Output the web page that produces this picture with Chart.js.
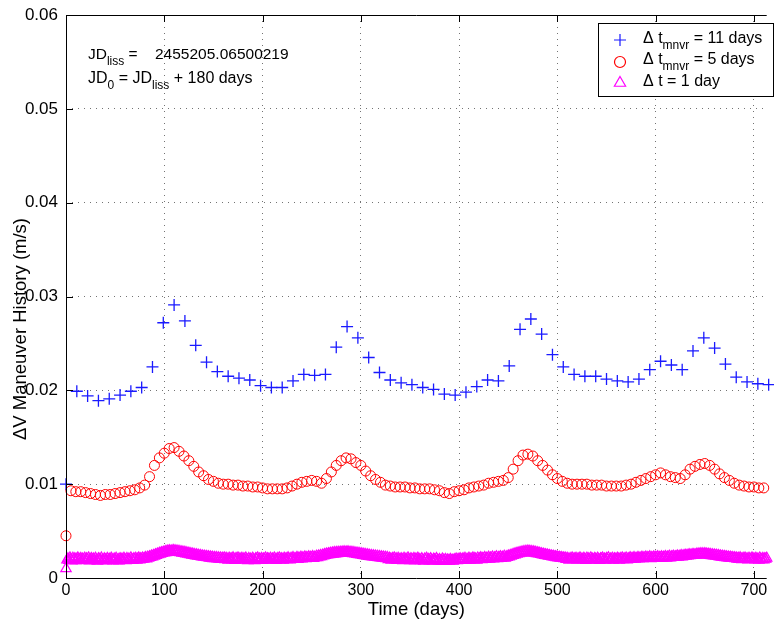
<!DOCTYPE html>
<html><head><meta charset="utf-8">
<script src="https://cdn.jsdelivr.net/npm/chart.js@4.4.1/dist/chart.umd.min.js"></script>
<style>html,body{margin:0;padding:0;background:#fff;overflow:hidden}canvas{display:block}</style>
</head><body>
<canvas id="c" width="774" height="622"></canvas>
<script>
const FONT = '"Liberation Sans", Arial, Helvetica, sans-serif';
const xTicks = [0, 100, 200, 300, 400, 500, 600, 700];
const yTicks = [0, 0.01, 0.02, 0.03, 0.04, 0.05, 0.06];
const xTitle = 'Time (days)';
const yTitle = '\u0394V Maneuver History (m/s)';

// sampling intervals (days)
const dtBlue = 11, dtRed = 5, dtMag = 1;

// Δt_mnvr = 11 days  (m/s)
const blueValues = [
 0.0100,0.0199,0.0194,0.0189,0.0191,0.0195,0.0199,0.0203,0.0225,0.0272,
 0.0291,0.0274,0.0248,0.0230,0.0220,0.0215,0.0213,0.0211,0.0205,0.0203,
 0.0203,0.0210,0.0217,0.0216,0.0217,0.0246,0.0268,0.0256,0.0235,0.0219,
 0.0211,0.0208,0.0206,0.0203,0.0201,0.0196,0.0195,0.0198,0.0204,0.0211,
 0.0210,0.0226,0.0265,0.0276,0.0260,0.0238,0.0225,0.0217,0.0215,0.0215,
 0.0212,0.0210,0.0209,0.0212,0.0222,0.0231,0.0227,0.0222,0.0242,0.0256,
 0.0245,0.0228,0.0214,0.0209,0.0207,0.0206
];

// Δt_mnvr = 5 days (m/s)
const redValues = [
 0.0045,0.0093,0.0092,0.0092,0.0091,0.0090,0.0089,0.0088,0.0089,0.0089,
 0.0090,0.0091,0.0092,0.0093,0.0094,0.0096,0.0099,0.0108,0.0120,0.0128,
 0.0133,0.0138,0.0139,0.0135,0.0130,0.0125,0.0119,0.0113,0.0109,0.0105,
 0.0103,0.0101,0.0100,0.0100,0.0099,0.0099,0.0098,0.0098,0.0097,0.0097,
 0.0096,0.0095,0.0095,0.0095,0.0095,0.0096,0.0098,0.0100,0.0102,0.0103,
 0.0104,0.0103,0.0101,0.0106,0.0113,0.0120,0.0125,0.0128,0.0127,0.0123,
 0.0120,0.0114,0.0109,0.0105,0.0102,0.0099,0.0098,0.0097,0.0097,0.0097,
 0.0096,0.0096,0.0095,0.0095,0.0095,0.0094,0.0093,0.0091,0.0090,0.0092,
 0.0093,0.0094,0.0096,0.0097,0.0098,0.0099,0.0101,0.0102,0.0103,0.0104,
 0.0107,0.0116,0.0125,0.0131,0.0132,0.0130,0.0125,0.0120,0.0115,0.0110,
 0.0106,0.0103,0.0101,0.0100,0.0100,0.0100,0.0100,0.0099,0.0099,0.0099,
 0.0098,0.0098,0.0098,0.0098,0.0099,0.0100,0.0102,0.0104,0.0106,0.0108,
 0.0110,0.0112,0.0110,0.0108,0.0107,0.0106,0.0110,0.0116,0.0119,0.0121,
 0.0122,0.0120,0.0116,0.0111,0.0107,0.0104,0.0101,0.0099,0.0098,0.0097,
 0.0097,0.0096,0.0096
];

// Δt = 1 day, in units of 1e-5 m/s
const magValuesE5 = [
 100,192,205,188,214,199,183,210,196,207,186,201,215,190,197,209,184,203,193,212,
 188,205,196,214,182,199,208,191,203,186,211,194,180,207,198,189,213,192,184,205,
 196,182,209,190,201,187,212,195,183,204,193,210,186,198,181,207,194,202,188,211,
 197,185,208,193,203,189,214,199,187,206,196,211,190,203,215,194,207,198,213,201,
 209,218,204,222,212,228,219,235,226,241,233,249,240,256,248,263,255,270,262,276,
 268,282,271,287,276,292,280,289,277,294,283,290,279,288,273,285,270,281,266,277,
 262,274,258,269,253,265,249,260,244,256,240,251,236,248,232,243,229,240,226,236,
 223,233,219,230,216,228,212,225,210,222,207,220,205,218,203,216,200,214,198,212,
 201,215,196,210,203,190,212,198,207,193,216,201,188,209,197,214,192,205,199,211,
 189,206,195,213,199,186,208,194,203,191,210,197,185,206,200,214,190,203,196,209,
 187,204,198,215,193,207,200,189,211,196,204,192,213,199,188,208,197,215,194,206,
 200,191,212,198,207,195,216,203,193,210,201,218,197,208,204,220,199,213,206,222,
 203,216,209,225,206,219,212,227,208,221,214,229,210,223,216,232,218,235,224,240,
 228,244,235,250,240,256,245,260,249,263,252,268,255,271,258,273,260,274,262,276,
 264,277,266,279,265,278,267,280,264,276,262,274,259,271,256,268,252,265,249,261,
 245,258,241,254,238,250,234,247,231,243,228,240,225,237,222,234,219,231,216,229,
 213,226,211,224,208,221,206,219,196,212,203,190,209,198,214,194,205,188,210,199,
 192,207,198,185,211,194,203,189,214,197,186,205,200,191,209,183,202,196,212,190,
 198,184,207,193,180,203,195,210,188,199,183,206,192,179,201,194,186,208,190,182,
 197,185,178,202,190,183,199,176,193,187,180,198,184,191,179,196,188,203,185,200,
 192,207,189,198,205,194,210,187,201,196,212,191,204,199,215,193,208,202,190,213,
 198,206,217,195,209,203,220,197,211,206,222,200,214,208,224,203,216,210,226,205,
 219,213,228,208,222,215,231,212,226,220,236,225,241,232,248,240,255,247,262,254,
 268,259,273,264,278,267,282,270,285,272,287,274,285,271,283,268,279,264,275,260,
 270,256,264,251,259,246,254,241,249,237,245,233,240,229,236,225,232,221,228,218,
 224,215,221,212,218,209,215,206,213,198,210,203,191,208,199,214,195,206,201,211,
 193,207,198,215,189,204,196,210,201,187,212,199,205,192,214,197,203,190,209,200,
 194,211,198,188,206,201,213,195,204,190,209,199,216,193,202,197,211,189,206,200,
 195,212,203,191,208,198,215,196,205,200,213,194,207,202,217,198,210,204,219,201,
 212,206,220,203,215,209,223,205,217,211,224,208,219,213,226,207,218,212,225,210,
 221,214,228,209,220,215,226,211,222,217,229,212,224,218,231,214,226,221,233,219,
 228,223,236,221,232,227,240,226,237,231,244,233,242,236,249,238,246,241,252,243,
 249,244,255,246,257,248,259,250,258,249,260,247,256,245,254,241,251,238,248,235,
 245,232,242,229,239,226,236,223,233,220,230,218,227,215,224,212,222,210,219,208,
 217,205,214,202,212,199,216,204,195,210,201,213,197,207,192,211,203,198,214,200,
 206,193,211,199,204,190,213,201,196,209,194,207,200,212
];

const COL_BLUE = '#1a1aff', COL_RED = '#ff0000', COL_MAG = '#ff00ff';

const toPts = (vals, dt, scale) => vals.map((v, i) => ({ x: i * dt, y: v * scale }));

const frameTicks = {
  id: 'frameTicks',
  afterDraw(chart) {
    const { ctx, chartArea: a, scales: { x, y } } = chart;
    ctx.save();
    ctx.strokeStyle = '#000';
    ctx.lineWidth = 1;
    ctx.beginPath();
    ctx.moveTo(a.left + 0.5, a.top + 0.5); ctx.lineTo(a.right, a.top + 0.5);
    ctx.moveTo(a.left + 0.5, a.top); ctx.lineTo(a.left + 0.5, a.bottom + 0.5);
    ctx.moveTo(a.left, a.bottom + 0.5); ctx.lineTo(a.right, a.bottom + 0.5);
    const L = 7;
    xTicks.forEach(v => {
      const px = Math.round(x.getPixelForValue(v)) + 0.5;
      ctx.moveTo(px, a.bottom); ctx.lineTo(px, a.bottom - L);
      ctx.moveTo(px, a.top); ctx.lineTo(px, a.top + L);
    });
    yTicks.forEach(v => {
      const py = Math.round(y.getPixelForValue(v)) + 0.5;
      ctx.moveTo(a.left, py); ctx.lineTo(a.left + L, py);
    });
    ctx.stroke();

    // y-axis title
    ctx.save();
    ctx.fillStyle = '#000';
    ctx.font = '18.5px ' + FONT;
    ctx.translate(21, 329);
    ctx.rotate(-Math.PI / 2);
    ctx.textAlign = 'center';
    ctx.textBaseline = 'middle';
    ctx.fillText(yTitle, 0, 0);
    ctx.restore();

    // annotation text
    ctx.fillStyle = '#000';
    ctx.textBaseline = 'alphabetic';
    ctx.textAlign = 'left';
    const run = (parts, x0, y0, size) => {
      const big = size + 'px ' + FONT, small = Math.round(size * 0.75) + 'px ' + FONT;
      let cx = x0;
      parts.forEach(([t, sub, at]) => {
        if (at) cx = at;
        ctx.font = sub ? small : big;
        ctx.fillText(t, cx, y0 + (sub ? 6 : 0));
        cx += ctx.measureText(t).width;
      });
    };
    run([['JD', 0], ['liss', 1], [' = ', 0], ['2455205.06500219', 0, 155]], 88, 59, 15.5);
    run([['JD', 0], ['0', 1], [' = JD', 0], ['liss', 1], [' + 180 days', 0]], 88, 83, 16);

    // legend
    const bx = 598.5, by = 23.5, bw = 175, bh = 73;
    ctx.fillStyle = '#fff';
    ctx.fillRect(bx, by, bw, bh);
    ctx.strokeStyle = '#000';
    ctx.strokeRect(bx, by, bw, bh);
    const mx = 620;
    const rows = [37, 58, 80];
    ctx.lineWidth = 1.2;
    ctx.strokeStyle = COL_BLUE;
    ctx.beginPath();
    ctx.moveTo(mx - 6, rows[0] + 3); ctx.lineTo(mx + 6, rows[0] + 3);
    ctx.moveTo(mx, rows[0] - 3); ctx.lineTo(mx, rows[0] + 9);
    ctx.stroke();
    ctx.strokeStyle = COL_RED;
    ctx.beginPath(); ctx.arc(mx, rows[1] + 4, 5.5, 0, Math.PI * 2); ctx.stroke();
    ctx.strokeStyle = COL_MAG;
    ctx.beginPath();
    const ty = rows[2] + 3, r = 6.5;
    ctx.moveTo(mx, ty - r); ctx.lineTo(mx + r * 0.866, ty + r / 2); ctx.lineTo(mx - r * 0.866, ty + r / 2); ctx.closePath();
    ctx.stroke();
    ctx.fillStyle = '#000';
    const lx = 643;
    run([['\u0394 t', 0], ['mnvr', 1], [' = 11 days', 0]], lx, rows[0] + 6, 16);
    run([['\u0394 t', 0], ['mnvr', 1], [' = 5 days', 0]], lx, rows[1] + 6, 16);
    run([['\u0394 t = 1 day', 0]], lx, rows[2] + 6, 16);
    ctx.restore();
  }
};

new Chart(document.getElementById('c'), {
  type: 'scatter',
  data: {
    datasets: [
      { label: '\u0394 t = 1 day', data: toPts(magValuesE5, dtMag, 1e-5), pointStyle: 'triangle',
        pointRadius: 6, borderColor: COL_MAG, backgroundColor: 'rgba(0,0,0,0)', borderWidth: 1.2, order: 0, clip: false },
      { label: '\u0394 t mnvr = 5 days', data: toPts(redValues, dtRed, 1), pointStyle: 'circle',
        pointRadius: 5, borderColor: COL_RED, backgroundColor: 'rgba(0,0,0,0)', borderWidth: 1, order: 1, clip: false },
      { label: '\u0394 t mnvr = 11 days', data: toPts(blueValues, dtBlue, 1), pointStyle: 'cross',
        pointRadius: 6, borderColor: COL_BLUE, backgroundColor: 'rgba(0,0,0,0)', borderWidth: 1.3, order: 2, clip: false }
    ]
  },
  options: {
    responsive: false,
    animation: false,
    events: [],
    layout: { padding: { left: 0, right: 0, top: 15, bottom: 0 } },
    plugins: { legend: { display: false }, tooltip: { enabled: false } },
    scales: {
      x: {
        type: 'linear', min: 0, max: 713,
        afterBuildTicks: s => { s.ticks = xTicks.map(v => ({ value: v })); },
        afterFit: s => { s.height = 44; s.paddingLeft = 0; s.paddingRight = 0; },
        ticks: { color: '#000', font: { family: FONT, size: 16 }, padding: 3, maxRotation: 0, autoSkip: false,
                 callback: v => String(v) },
        grid: { color: 'rgba(0,0,0,0.55)', lineWidth: 1, drawTicks: false },
        border: { display: false, dash: [1, 5] },
        title: { display: true, text: xTitle, color: '#000', font: { family: FONT, size: 18.5 }, padding: { top: 0, bottom: 1 } }
      },
      y: {
        type: 'linear', min: 0, max: 0.06,
        afterBuildTicks: s => { s.ticks = yTicks.map(v => ({ value: v })); },
        afterFit: s => { s.width = 66; s.paddingTop = 0; s.paddingBottom = 0; },
        ticks: { color: '#000', font: { family: FONT, size: 17 }, padding: 8, autoSkip: false,
                 callback: v => String(+v.toFixed(2)) },
        grid: { color: 'rgba(0,0,0,0.55)', lineWidth: 1, drawTicks: false },
        border: { display: false, dash: [1, 5] },
        title: { display: false, text: yTitle }
      }
    }
  },
  plugins: [frameTicks]
});
</script>
</body></html>
